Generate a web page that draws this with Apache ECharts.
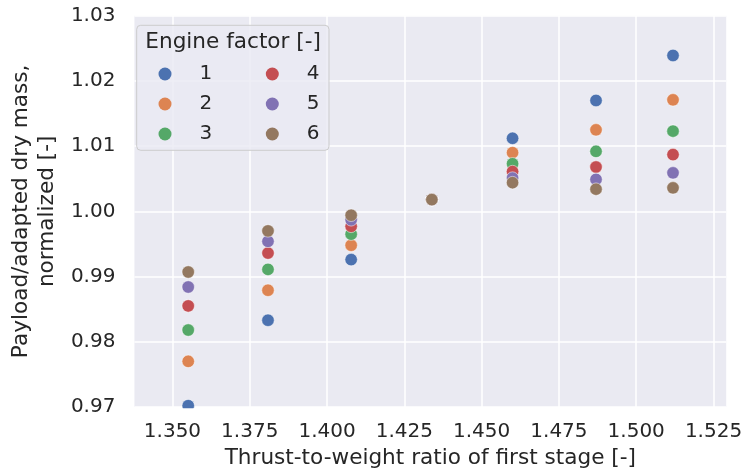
<!DOCTYPE html>
<html>
<head>
<meta charset="utf-8">
<script src="https://cdn.jsdelivr.net/npm/echarts@6/dist/echarts.min.js"></script>
<style>
  html, body { margin: 0; padding: 0; background: #ffffff; }
  #chart { width: 745px; height: 474px; }
</style>
</head>
<body>
<div id="chart"></div>
<script>
// Thrust-to-weight ratio of the first stage (x positions of each column)
const twRatio = [1.3551, 1.3809, 1.4078, 1.4339, 1.4600, 1.4870, 1.5119];

// Normalized payload / adapted dry mass, one array per engine factor
const factor1 = [0.9702, 0.9833, 0.9926, 1.0018, 1.0112, 1.0170, 1.0239];
const factor2 = [0.9770, 0.9879, 0.9948, 1.0018, 1.0090, 1.0125, 1.0171];
const factor3 = [0.9818, 0.9911, 0.9965, 1.0018, 1.0073, 1.0092, 1.0123];
const factor4 = [0.9855, 0.9936, 0.9977, 1.0018, 1.0061, 1.0068, 1.0087];
const factor5 = [0.9884, 0.9954, 0.9987, 1.0018, 1.0051, 1.0049, 1.0059];
const factor6 = [0.9907, 0.9970, 0.9994, 1.0018, 1.0044, 1.0034, 1.0036];

const factorNames = ['1', '2', '3', '4', '5', '6'];
const factorValues = [factor1, factor2, factor3, factor4, factor5, factor6];

// Axis ticks
const xTicks = [1.350, 1.375, 1.400, 1.425, 1.450, 1.475, 1.500, 1.525];

const palette = ['#4C72B0', '#DD8452', '#55A868', '#C44E52', '#8172B3', '#937860'];
const textColor = '#262626';
const fontFamily = 'DejaVu Sans';

const chart = echarts.init(document.getElementById('chart'), null, { renderer: 'canvas' });

const series = factorNames.map((name, i) => ({
  name: name,
  type: 'scatter',
  symbol: 'circle',
  symbolSize: 12.5,
  clip: true,
  itemStyle: { color: palette[i], opacity: 1, borderColor: '#ffffff', borderWidth: 0.5 },
  emphasis: { disabled: true },
  data: twRatio.map((x, j) => [x, factorValues[i][j]]),
  z: 2 + i
}));

const legendCommon = {
  orient: 'vertical',
  icon: 'circle',
  itemWidth: 13,
  itemHeight: 13,
  itemGap: 9,
  padding: 0,
  top: 63.5,
  z: 60,
  selectedMode: false,
  itemStyle: { borderWidth: 0 },
  textStyle: {
    color: textColor,
    fontFamily: fontFamily,
    fontSize: 20,
    lineHeight: 21,
    padding: [0, 0, 0, 23]
  }
};

const option = {
  animation: false,
  backgroundColor: '#ffffff',
  color: palette,
  grid: {
    left: 128,
    right: 15,
    top: 15.7,
    bottom: 66,
    show: true,
    backgroundColor: '#EAEAF2',
    borderWidth: 0
  },
  xAxis: {
    type: 'value',
    min: 1.3377,
    max: 1.5291,
    name: 'Thrust-to-weight ratio of first stage [-]',
    nameLocation: 'middle',
    nameGap: 40,
    nameTextStyle: { color: textColor, fontFamily: fontFamily, fontSize: 21.6 },
    axisLine: { show: false },
    axisTick: { show: false, customValues: xTicks },
    axisLabel: {
      customValues: xTicks,
      color: textColor,
      fontFamily: fontFamily,
      fontSize: 20,
      margin: 15,
      formatter: v => v.toFixed(3)
    },
    splitLine: { show: true, lineStyle: { color: '#ffffff', width: 1.5 } }
  },
  yAxis: {
    type: 'value',
    min: 0.97,
    max: 1.03,
    interval: 0.01,
    name: 'Payload/adapted dry mass,\nnormalized [-]',
    nameLocation: 'middle',
    nameGap: 68,
    nameTextStyle: {
      color: textColor,
      fontFamily: fontFamily,
      fontSize: 21.6,
      lineHeight: 26,
      align: 'center'
    },
    axisLine: { show: false },
    axisTick: { show: false },
    axisLabel: {
      color: textColor,
      fontFamily: fontFamily,
      fontSize: 20,
      margin: 19,
      formatter: v => v.toFixed(2)
    },
    splitLine: { show: true, lineStyle: { color: '#ffffff', width: 1.5 } }
  },
  legend: [
    Object.assign({}, legendCommon, { left: 158.5, data: ['1', '2', '3'] }),
    Object.assign({}, legendCommon, { left: 265.8, data: ['4', '5', '6'] })
  ],
  graphic: [
    {
      // keeps markers that sit on the lower edge inside the plotting area
      type: 'rect',
      z: 40,
      silent: true,
      shape: { x: 128, y: 408.2, width: 605, height: 12 },
      style: { fill: '#ffffff' }
    },
    {
      type: 'rect',
      z: 50,
      silent: true,
      shape: { x: 136.7, y: 25.3, width: 192.3, height: 125, r: 4 },
      style: { fill: 'rgba(234,234,242,0.8)', stroke: '#cccccc', lineWidth: 1 }
    },
    {
      type: 'text',
      z: 60,
      silent: true,
      left: 145.3,
      top: 31,
      style: {
        text: 'Engine factor [-]',
        fill: textColor,
        font: '21.6px "DejaVu Sans"'
      }
    }
  ],
  series: series
};

chart.setOption(option);
</script>
</body>
</html>
